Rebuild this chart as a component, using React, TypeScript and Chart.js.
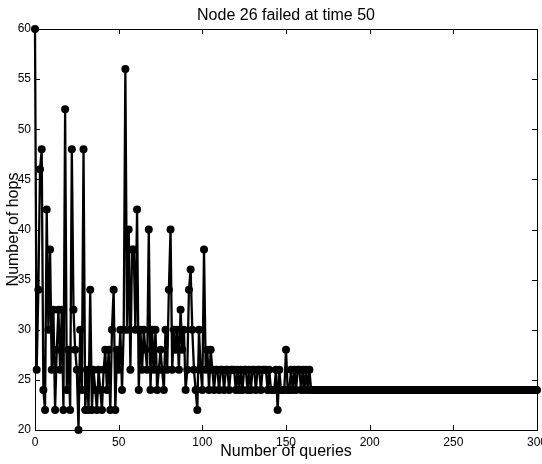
import React, { useEffect, useRef } from 'react';
import { Chart, registerables } from 'chart.js';

Chart.register(...registerables);

const TITLE = 'Node 26 failed at time 50';
const X_TITLE = 'Number of queries';
const Y_TITLE = 'Number of hops';

const X_MIN = 0;
const X_MAX = 300;
const X_STEP = 50;
const Y_MIN = 20;
const Y_MAX = 60;
const Y_STEP = 5;

// Number of hops for query 0..300
const hops: number[] = [
  60, 26, 34, 46, 48, 24, 22, 42, 30, 38, 26, 32, 22, 28, 32, 26, 32, 22, 52, 24,
  28, 22, 48, 32, 28, 26, 20, 30, 24, 48, 22, 26, 22, 34, 22, 26, 24, 22, 26, 24,
  22, 26, 28, 24, 28, 22, 30, 34, 22, 28, 26, 30, 24, 30, 56, 30, 40, 26, 38, 38,
  30, 42, 24, 30, 26, 30, 28, 26, 40, 24, 30, 26, 30, 24, 26, 28, 26, 24, 30, 26,
  34, 40, 26, 30, 28, 30, 26, 32, 28, 30, 24, 26, 34, 36, 30, 26, 24, 22, 30, 26,
  24, 38, 26, 28, 24, 28, 26, 24, 26, 26, 24, 26, 26, 24, 26, 26, 24, 26, 26, 26,
  24, 26, 24, 26, 24, 26, 26, 24, 26, 24, 26, 26, 24, 26, 26, 24, 26, 26, 26, 24,
  26, 24, 24, 24, 26, 22, 26, 24, 24, 24, 28, 24, 24, 26, 24, 26, 24, 26, 26, 24,
  26, 24, 26, 24, 26, 24, 24, 24, 24, 24, 24, 24, 24, 24, 24, 24, 24, 24, 24, 24,
  24, 24, 24, 24, 24, 24, 24, 24, 24, 24, 24, 24, 24, 24, 24, 24, 24, 24, 24, 24,
  24, 24, 24, 24, 24, 24, 24, 24, 24, 24, 24, 24, 24, 24, 24, 24, 24, 24, 24, 24,
  24, 24, 24, 24, 24, 24, 24, 24, 24, 24, 24, 24, 24, 24, 24, 24, 24, 24, 24, 24,
  24, 24, 24, 24, 24, 24, 24, 24, 24, 24, 24, 24, 24, 24, 24, 24, 24, 24, 24, 24,
  24, 24, 24, 24, 24, 24, 24, 24, 24, 24, 24, 24, 24, 24, 24, 24, 24, 24, 24, 24,
  24, 24, 24, 24, 24, 24, 24, 24, 24, 24, 24, 24, 24, 24, 24, 24, 24, 24, 24, 24,
  24,
];

const FONT = "'Liberation Sans', Arial, Helvetica, sans-serif";

const boxPlugin = {
  id: 'matlabBox',
  beforeDatasetsDraw(chart: any) {
    const { ctx, chartArea, scales } = chart;
    const { left, right, top, bottom } = chartArea;
    ctx.save();
    ctx.strokeStyle = '#000';
    ctx.lineWidth = 1;
    ctx.strokeRect(Math.round(left) + 0.5, Math.round(top) + 0.5, Math.round(right - left), Math.round(bottom - top));
    ctx.beginPath();
    const tl = 5;
    scales.x.ticks.forEach((t: any) => {
      const px = Math.round(scales.x.getPixelForValue(t.value)) + 0.5;
      ctx.moveTo(px, bottom);
      ctx.lineTo(px, bottom - tl);
      ctx.moveTo(px, top);
      ctx.lineTo(px, top + tl);
    });
    scales.y.ticks.forEach((t: any) => {
      const py = Math.round(scales.y.getPixelForValue(t.value)) + 0.5;
      ctx.moveTo(left, py);
      ctx.lineTo(left + tl, py);
      ctx.moveTo(right, py);
      ctx.lineTo(right - tl, py);
    });
    ctx.stroke();
    // title centred over the plot area
    ctx.fillStyle = '#000';
    ctx.font = `16px ${FONT}`;
    ctx.textAlign = 'center';
    ctx.textBaseline = 'middle';
    ctx.fillText(TITLE, (left + right) / 2, 16);
    ctx.restore();
  },
};

export default function App() {
  const ref = useRef<HTMLCanvasElement | null>(null);

  useEffect(() => {
    if (!ref.current) return;
    const points = hops.map((v, i) => ({ x: i, y: v }));
    const chart = new Chart(ref.current, {
      type: 'line',
      data: {
        datasets: [
          {
            data: points,
            borderColor: '#000',
            backgroundColor: '#000',
            borderWidth: 2.3,
            pointRadius: 4,
            pointBackgroundColor: '#000',
            pointBorderColor: '#000',
            pointBorderWidth: 0,
            tension: 0,
            clip: false as any,
          },
        ],
      },
      options: {
        responsive: false,
        animation: false,
        devicePixelRatio: 1,
        events: [],
        layout: { padding: { left: 0, right: 5, top: 29, bottom: 0 } },
        plugins: {
          legend: { display: false },
          tooltip: { enabled: false },
          title: { display: false },
        },
        scales: {
          x: {
            type: 'linear',
            min: X_MIN,
            max: X_MAX,
            grid: { display: false, drawTicks: false },
            border: { display: false },
            ticks: {
              stepSize: X_STEP,
              color: '#000',
              font: { family: FONT, size: 12 },
              padding: 5,
              maxRotation: 0,
              autoSkip: false,
            },
            title: {
              display: true,
              text: X_TITLE,
              color: '#000',
              font: { family: FONT, size: 16 },
              padding: { top: 0, bottom: 2.4 },
            },
            afterFit(s: any) {
              s.height = 34;
              s.paddingLeft = 0;
              s.paddingRight = 0;
            },
          },
          y: {
            type: 'linear',
            min: Y_MIN,
            max: Y_MAX,
            grid: { display: false, drawTicks: false },
            border: { display: false },
            ticks: {
              stepSize: Y_STEP,
              color: '#000',
              font: { family: FONT, size: 12 },
              padding: 4,
            },
            title: {
              display: true,
              text: Y_TITLE,
              color: '#000',
              font: { family: FONT, size: 16 },
              padding: { top: 4.4, bottom: 0 },
            },
            afterFit(s: any) {
              s.width = 35;
              s.paddingTop = 0;
              s.paddingBottom = 0;
            },
          },
        },
      },
      plugins: [boxPlugin],
    });
    return () => chart.destroy();
  }, []);

  return (
    <div style={{ position: 'fixed', left: 0, top: 0, width: 542, height: 464, background: '#fff' }}>
      <canvas ref={ref} width={542} height={464} style={{ display: 'block', width: 542, height: 464 }} />
    </div>
  );
}
